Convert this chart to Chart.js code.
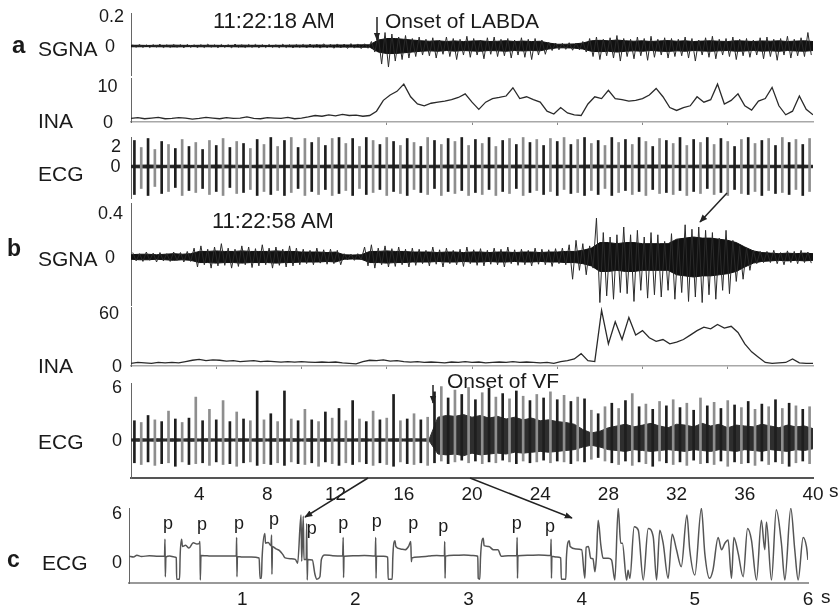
<!DOCTYPE html>
<html>
<head>
<meta charset="utf-8">
<script src="https://cdn.jsdelivr.net/npm/chart.js@4.4.1/dist/chart.umd.min.js"></script>
<style>
body { margin: 0; background: #fff; }
#wrap { position: relative; width: 839px; height: 606px; overflow: hidden; font-family: "Liberation Sans", Arial, sans-serif; color: #1a1a1a; }
#wrap canvas { position: absolute; left: 0; }
.t { position: absolute; line-height: 1; white-space: nowrap; transform: translateY(-50%); font-size: 21px; }
.b { font-weight: bold; font-size: 23px; }
.p { position: absolute; line-height: 1; font-size: 18px; transform: translate(-50%, -50%); }
#wrap svg { position: absolute; left: 0; top: 0; }
</style>
</head>
<body>
<div id="wrap">
  <div class="t b" style="left:12px;top:45px;font-size:24px">a</div>
  <div class="t" style="left:38px;top:47.5px">SGNA</div>
  <div class="t" style="left:213px;top:21px;font-size:22px">11:22:18 AM</div>
  <div class="t" style="left:385px;top:20px">Onset of LABDA</div>
  <div class="t" style="left:38px;top:119.5px">INA</div>
  <div class="t" style="left:38px;top:172.5px">ECG</div>

  <div class="t b" style="left:7px;top:247.5px">b</div>
  <div class="t" style="left:38px;top:257.5px">SGNA</div>
  <div class="t" style="left:212px;top:220.5px;font-size:22px">11:22:58 AM</div>
  <div class="t" style="left:38px;top:364.5px">INA</div>
  <div class="t" style="left:38px;top:440.5px">ECG</div>
  <div class="t" style="left:447px;top:379.5px">Onset of VF</div>
  <div class="t" style="left:829px;top:490px;font-size:19px">s</div>

  <div class="t b" style="left:7px;top:559px">c</div>
  <div class="t" style="left:42px;top:561.5px">ECG</div>
  <div class="t" style="left:821px;top:596px;font-size:19px">s</div>

  <div class="p" style="left:168px;top:523px">p</div>
  <div class="p" style="left:202px;top:523.5px">p</div>
  <div class="p" style="left:239px;top:523px">p</div>
  <div class="p" style="left:274px;top:519px">p</div>
  <div class="p" style="left:311.7px;top:528px">p</div>
  <div class="p" style="left:343.3px;top:523px">p</div>
  <div class="p" style="left:376.7px;top:521.4px">p</div>
  <div class="p" style="left:413.3px;top:523px">p</div>
  <div class="p" style="left:443.3px;top:526.4px">p</div>
  <div class="p" style="left:516.7px;top:523px">p</div>
  <div class="p" style="left:550px;top:526.4px">p</div>

  <svg width="839" height="606" viewBox="0 0 839 606">
    <defs>
      <marker id="ah" viewBox="0 0 10 10" refX="9" refY="5" markerWidth="8" markerHeight="8" markerUnits="userSpaceOnUse" orient="auto">
        <path d="M0,1 L10,5 L0,9 z" fill="#222"/>
      </marker>
    </defs>
    <g stroke="#222" stroke-width="1.5" fill="none">
      <line x1="377" y1="17" x2="377" y2="40" marker-end="url(#ah)"/>
      <line x1="433" y1="385" x2="433" y2="403" marker-end="url(#ah)"/>
      <line x1="727" y1="193" x2="700" y2="222" marker-end="url(#ah)"/>
      <line x1="368" y1="478" x2="305" y2="517" marker-end="url(#ah)"/>
      <line x1="470" y1="478" x2="572" y2="518" marker-end="url(#ah)"/>
    </g>
  </svg>
</div>
<script>
// time grids: 0.4 s envelope bins, 0.5 s and 1 s core samples, 0.4 s INA samples
const binT = Array.from({ length: 100 }, (_, i) => 0.2 + 0.4 * i);
const halfT = Array.from({ length: 81 }, (_, i) => 0.5 * i);
const secT = Array.from({ length: 41 }, (_, i) => i);
const inaT = Array.from({ length: 101 }, (_, i) => 0.4 * i);

// panel a, SGNA (mV): per-bin extremes and dense core half-width
const aSgnaHi = [
  .008,.010,.007,.009,.012,.008,.010,.009,.011,.008,
  .009,.012,.008,.010,.009,.013,.008,.010,.011,.009,
  .010,.008,.012,.009,.010,.011,.013,.012,.015,.012,
  .014,.013,.016,.014,.015,.030,.070,.090,.080,.060,
  .070,.050,.060,.045,.055,.040,.060,.050,.045,.065,
  .050,.040,.055,.060,.045,.050,.040,.055,.045,.050,
  .040,.025,.020,.018,.022,.020,.030,.050,.060,.045,
  .055,.070,.050,.045,.060,.050,.065,.045,.055,.050,
  .045,.060,.050,.040,.055,.065,.045,.050,.060,.045,
  .050,.040,.055,.060,.045,.050,.065,.045,.055,.090];
const aSgnaLo = [
  -.008,-.009,-.010,-.007,-.011,-.009,-.008,-.012,-.009,-.010,
  -.010,-.008,-.011,-.009,-.012,-.008,-.010,-.009,-.011,-.010,
  -.009,-.011,-.010,-.012,-.009,-.013,-.011,-.014,-.012,-.015,
  -.013,-.016,-.014,-.017,-.015,-.040,-.120,-.140,-.100,-.090,
  -.080,-.070,-.060,-.065,-.080,-.055,-.070,-.090,-.060,-.075,
  -.060,-.085,-.055,-.070,-.065,-.080,-.060,-.075,-.090,-.060,
  -.055,-.030,-.025,-.022,-.028,-.025,-.040,-.070,-.090,-.065,
  -.080,-.100,-.070,-.085,-.065,-.095,-.075,-.060,-.080,-.070,
  -.065,-.080,-.100,-.060,-.075,-.085,-.060,-.070,-.090,-.065,
  -.075,-.060,-.085,-.070,-.095,-.060,-.080,-.065,-.070,-.060];
const aSgnaCore = [
  .005,.005,.004,.005,.005,.006,.005,.004,.005,.005,
  .005,.004,.005,.006,.005,.005,.004,.005,.005,.006,
  .006,.006,.007,.006,.007,.007,.007,.008,.008,.040,
  .050,.050,.045,.040,.035,.032,.035,.030,.034,.030,
  .033,.035,.030,.032,.035,.030,.033,.030,.032,.020,
  .012,.012,.014,.020,.035,.038,.035,.040,.035,.032,
  .035,.030,.034,.036,.032,.035,.030,.033,.035,.032,
  .030,.035,.033,.030,.034,.032,.035,.030,.033,.035,.030];

// panel a, INA (a.u.)
const aIna = [
  1.0,1.2,0.9,1.1,1.3,0.9,1.0,1.2,1.1,0.8,
  1.0,1.3,1.1,0.9,1.2,1.0,1.1,1.4,1.0,0.9,
  1.2,1.1,1.0,1.3,0.9,1.1,1.4,1.8,1.6,2.0,
  1.7,2.1,1.8,1.9,1.6,1.8,3.0,6.0,7.5,8.5,
  10.5,7.0,5.0,4.5,5.2,5.5,5.8,6.2,6.8,7.8,
  5.5,3.5,5.5,6.5,6.8,7.2,9.5,6.5,7.0,6.2,
  5.5,3.0,2.2,4.0,2.5,2.0,1.8,5.0,7.0,6.5,
  8.8,6.5,6.2,5.8,6.0,6.5,7.5,9.3,7.0,4.0,
  3.2,4.0,4.5,7.0,5.5,6.2,10.5,5.0,6.0,7.8,
  4.5,3.3,5.8,6.5,9.6,4.5,2.0,3.0,7.2,3.5,2.0];

// panel a, ECG (mV)
const aEcgHi = [
  2.6,1.9,2.8,1.7,2.5,2.2,1.8,2.7,2.0,2.4,
  1.7,2.6,2.1,2.8,1.9,2.5,2.3,1.8,2.7,2.2,
  2.9,2.0,2.6,2.9,1.9,2.8,2.4,2.9,2.1,2.8,
  2.9,2.3,2.8,2.0,2.9,2.6,2.2,2.9,2.5,2.1,
  2.8,2.4,2.0,2.9,2.6,2.2,2.8,2.5,2.9,2.1,
  2.7,2.3,2.9,2.0,2.6,2.8,2.2,2.9,2.4,2.7,
  2.1,2.8,2.5,2.9,2.2,2.7,2.9,2.3,2.6,2.1,
  2.9,2.4,2.7,2.2,2.9,2.5,2.0,2.8,2.6,2.3,
  2.9,2.1,2.7,2.4,2.9,2.2,2.8,2.5,2.0,2.7,
  2.9,2.3,2.6,2.8,2.1,2.9,2.4,2.7,2.2,2.8];
const aEcgLo = [
  -2.8,-2.2,-2.9,-2.0,-2.7,-2.5,-2.1,-2.9,-2.4,-2.6,
  -2.2,-2.8,-2.5,-2.9,-2.1,-2.7,-2.6,-2.3,-2.9,-2.5,
  -2.8,-2.4,-2.9,-2.6,-2.2,-2.9,-2.5,-2.8,-2.3,-2.9,
  -2.7,-2.4,-2.9,-2.2,-2.8,-2.6,-2.3,-2.9,-2.5,-2.7,
  -2.9,-2.3,-2.6,-2.8,-2.2,-2.9,-2.5,-2.7,-2.4,-2.9,
  -2.6,-2.8,-2.3,-2.9,-2.5,-2.7,-2.2,-2.9,-2.6,-2.4,
  -2.8,-2.5,-2.9,-2.3,-2.7,-2.6,-2.9,-2.4,-2.8,-2.2,
  -2.9,-2.6,-2.4,-2.8,-2.5,-2.9,-2.3,-2.7,-2.6,-2.8,
  -2.4,-2.9,-2.5,-2.7,-2.2,-2.8,-2.6,-2.9,-2.3,-2.7,
  -2.8,-2.5,-2.9,-2.4,-2.7,-2.6,-2.8,-2.3,-2.9,-2.5];
const aEcgCore = [
  .12,.15,.12,.14,.12,.15,.13,.12,.15,.12,
  .14,.12,.15,.13,.12,.14,.15,.12,.13,.15,
  .12,.14,.13,.15,.12,.14,.12,.15,.13,.12,
  .14,.15,.12,.13,.15,.12,.14,.13,.12,.15,.12];

// panel b, SGNA (mV)
const bSgnaHi = [
  .04,.03,.045,.035,.04,.03,.045,.04,.05,.08,
  .10,.07,.09,.12,.08,.07,.10,.09,.075,.11,
  .08,.09,.07,.10,.08,.07,.06,.08,.065,.07,
  .06,.03,.025,.03,.09,.11,.08,.10,.075,.09,
  .07,.08,.07,.06,.09,.065,.08,.06,.07,.09,
  .065,.075,.06,.08,.07,.09,.065,.07,.06,.08,
  .07,.065,.075,.08,.11,.15,.12,.10,.35,.22,
  .18,.20,.27,.20,.24,.18,.22,.20,.14,.21,
  .16,.29,.25,.27,.24,.22,.17,.24,.15,.10,
  .08,.06,.05,.05,.06,.04,.055,.05,.06,.045];
const bSgnaLo = [
  -.035,-.04,-.03,-.045,-.035,-.04,-.03,-.045,-.04,-.09,
  -.07,-.10,-.08,-.075,-.10,-.085,-.07,-.095,-.08,-.07,
  -.10,-.075,-.09,-.08,-.07,-.06,-.07,-.055,-.065,-.06,
  -.07,-.025,-.03,-.025,-.08,-.10,-.07,-.09,-.085,-.07,
  -.09,-.075,-.06,-.08,-.065,-.09,-.06,-.07,-.085,-.06,
  -.075,-.08,-.065,-.07,-.09,-.06,-.075,-.07,-.08,-.065,
  -.07,-.085,-.06,-.07,-.20,-.12,-.16,-.10,-.41,-.35,
  -.38,-.32,-.33,-.40,-.30,-.37,-.34,-.36,-.30,-.38,
  -.32,-.40,-.36,-.41,-.34,-.38,-.30,-.33,-.22,-.20,
  -.12,-.06,-.05,-.05,-.06,-.07,-.05,-.06,-.05,-.055];
const bSgnaCore = [
  .020,.025,.025,.020,.025,.030,.025,.030,.050,.050,
  .055,.050,.050,.055,.050,.050,.050,.055,.050,.050,
  .045,.045,.045,.040,.045,.020,.018,.020,.050,.050,
  .055,.050,.050,.045,.045,.045,.040,.045,.045,.040,
  .045,.045,.040,.045,.045,.040,.045,.045,.040,.045,
  .045,.050,.050,.060,.080,.130,.130,.120,.130,.130,
  .120,.120,.120,.120,.160,.170,.180,.170,.170,.160,
  .150,.130,.090,.055,.040,.035,.030,.035,.030,.035,.030];

// panel b, INA (a.u.)
const bIna = [
  3,4,3.5,3,4,3.5,4,3.5,5,6.5,
  7.5,6,7,6.5,5.5,6,5,5.5,6,5,
  5.5,5,4.5,5,4.5,5,4.5,4,4.5,4,
  4.5,3.5,3,2.5,5,6.5,6,7,5.5,6,
  5,4.5,5,4,4.5,4,3.5,4.5,4,5,
  4,4.5,3.5,4,4.5,4,5,4,4.5,4,
  3.5,4,3,5,6,8,14,6,5,63,
  25,50,30,55,35,40,32,28,30,25,
  27,30,35,40,44,42,47,43,45,38,
  25,16,10,4,3,3.5,4,8,3.5,3,3];

// panel b, ECG (mV)
const bEcgHi = [
  2.2,2.0,2.8,2.3,2.1,3.3,2.4,2.0,2.5,4.9,
  2.2,3.5,2.3,4.5,2.1,3.2,2.4,2.2,5.6,2.3,
  3.0,2.1,5.6,2.4,2.2,3.5,2.3,2.1,3.2,2.5,
  3.6,2.2,4.5,2.4,2.1,3.3,2.3,2.5,5.2,2.2,
  2.4,3.0,2.3,2.6,5.5,6.1,4.8,5.7,5.2,6.0,
  4.6,5.4,5.9,4.9,5.3,4.7,5.6,5.0,4.5,5.2,
  4.8,5.5,4.6,5.1,4.4,4.9,4.7,3.4,3.0,3.8,
  4.2,3.6,4.5,5.3,3.8,4.1,3.5,4.4,3.9,4.6,
  3.7,4.2,3.4,4.8,3.9,4.3,3.6,4.5,4.0,3.7,
  4.4,3.5,4.1,3.8,4.6,3.6,4.2,3.9,3.5,3.8];
const bEcgLo = [
  -2.6,-2.8,-2.5,-2.9,-2.7,-2.6,-3.0,-2.5,-2.8,-2.7,
  -2.6,-2.9,-2.5,-2.8,-2.7,-3.0,-2.6,-2.5,-2.9,-2.7,
  -2.8,-2.6,-2.9,-2.5,-2.7,-2.8,-2.6,-3.0,-2.5,-2.7,
  -2.9,-2.6,-2.8,-2.5,-2.7,-2.9,-2.6,-2.8,-3.0,-2.5,
  -2.7,-2.8,-2.6,-2.9,-2.6,-2.4,-2.7,-2.5,-2.3,-2.6,
  -2.4,-2.7,-2.5,-2.6,-2.3,-2.5,-2.7,-2.4,-2.6,-2.5,
  -2.3,-2.6,-2.4,-2.5,-2.7,-2.4,-2.5,-2.2,-2.0,-2.4,
  -2.6,-2.8,-2.4,-2.9,-2.5,-2.7,-3.0,-2.4,-2.6,-2.8,
  -2.5,-2.9,-2.3,-2.7,-2.6,-2.8,-2.4,-3.0,-2.5,-2.7,
  -2.6,-2.9,-2.4,-2.8,-2.5,-2.7,-3.0,-2.6,-2.4,-2.7];
const bEcgCoreHi = [
  .12,.15,.12,.15,.12,.15,.12,.15,.12,.15,
  .12,.15,.12,.15,.12,.15,.12,.15,.12,.15,
  .12,.15,.12,.15,.12,.15,.12,.15,.12,.15,
  .12,.15,.12,.15,.12,.15,2.6,2.8,2.7,2.9,
  2.6,2.8,2.5,2.7,2.4,2.6,2.3,2.5,2.2,2.3,
  2.1,2.0,1.8,1.2,0.8,1.0,1.4,1.6,1.8,1.5,
  1.7,1.9,1.6,1.4,1.8,1.7,1.5,1.9,1.6,1.8,
  1.4,1.7,1.6,1.5,1.8,1.6,1.4,1.7,1.5,1.6,1.3];
const bEcgCoreLo = [
  -.12,-.15,-.12,-.15,-.12,-.15,-.12,-.15,-.12,-.15,
  -.12,-.15,-.12,-.15,-.12,-.15,-.12,-.15,-.12,-.15,
  -.12,-.15,-.12,-.15,-.12,-.15,-.12,-.15,-.12,-.15,
  -.12,-.15,-.12,-.15,-.12,-.15,-1.6,-1.7,-1.6,-1.8,
  -1.5,-1.7,-1.6,-1.5,-1.6,-1.4,-1.5,-1.4,-1.3,-1.4,
  -1.3,-1.2,-1.1,-0.8,-0.6,-0.8,-1.1,-1.2,-1.3,-1.1,
  -1.2,-1.3,-1.2,-1.1,-1.2,-1.3,-1.1,-1.2,-1.3,-1.1,
  -1.2,-1.3,-1.1,-1.2,-1.3,-1.1,-1.2,-1.3,-1.1,-1.2,-1.0];

// panel c, expanded ECG: time (s) and voltage (mV)
const cT = [
  0.00,0.04,0.07,0.11,0.18,0.26,0.314,0.318,0.321,0.326,
  0.36,0.40,0.418,0.421,0.447,0.452,0.465,0.472,0.50,0.53,
  0.568,0.60,0.622,0.627,0.630,0.636,0.67,0.72,0.80,0.88,
  0.948,0.951,0.954,0.958,1.00,1.08,1.15,1.158,1.170,1.176,
  1.200,1.206,1.23,1.255,1.260,1.263,1.268,1.30,1.33,1.36,
  1.38,1.43,1.47,1.490,1.520,1.526,1.540,1.546,1.566,1.570,
  1.575,1.580,1.62,1.643,1.660,1.687,1.70,1.73,1.80,1.888,
  1.893,1.896,1.900,1.98,2.08,2.176,2.180,2.183,2.187,2.25,
  2.286,2.290,2.326,2.331,2.350,2.358,2.40,2.44,2.47,2.490,
  2.495,2.50,2.56,2.65,2.72,2.787,2.790,2.793,2.797,2.87,
  2.96,3.04,3.082,3.086,3.100,3.106,3.130,3.138,3.18,3.22,
  3.26,3.29,3.35,3.426,3.430,3.433,3.437,3.52,3.62,3.726,
  3.730,3.733,3.737,3.78,3.815,3.820,3.860,3.865,3.890,3.898,
  3.95,4.00,4.028,4.040,4.06,4.08,4.10,4.117,4.130,4.146,
  4.170,4.19,4.234,4.264,4.293,4.323,4.345,4.36,4.397,4.41,
  4.426,4.464,4.50,4.544,4.588,4.632,4.662,4.690,4.720,4.764,
  4.800,4.838,4.880,4.930,4.955,5.000,5.058,5.088,5.130,5.160,
  5.206,5.236,5.265,5.294,5.324,5.345,5.383,5.427,5.466,5.500,
  5.545,5.588,5.618,5.633,5.677,5.720,5.765,5.795,5.848,5.883,
  5.913,5.957,5.986,6.000];
const cV = [
  0.72,0.62,0.82,0.68,0.76,0.70,0.74,2.80,-1.80,0.60,
  0.72,0.62,0.55,-2.10,-2.10,0.80,2.80,1.90,2.05,1.70,
  2.36,2.20,2.30,2.50,-2.20,0.80,0.78,0.72,0.75,0.72,
  0.72,3.00,-1.80,0.68,0.62,0.60,0.50,-2.00,-2.00,0.50,
  3.50,2.30,2.40,2.00,3.30,-1.50,1.90,1.60,1.40,0.90,
  0.50,0.40,0.32,-0.16,5.75,0.10,5.60,0.30,0.30,4.70,
  -2.20,0.30,0.25,-1.50,-2.10,-1.80,0.30,0.86,0.78,0.75,
  3.00,-1.90,0.70,0.76,0.80,0.75,3.00,-2.00,0.70,0.70,
  0.60,-2.10,-2.10,0.50,2.60,1.90,1.60,1.50,1.90,2.50,
  0.04,0.50,0.62,0.72,0.80,0.76,2.50,-2.00,0.72,0.82,
  0.85,0.80,0.70,-2.00,-2.10,0.50,2.90,2.00,1.90,1.50,
  1.50,0.70,0.76,0.80,3.00,-2.00,0.76,0.82,0.85,0.80,
  2.80,-2.00,0.70,0.60,0.50,-2.10,-2.10,0.50,2.60,1.90,
  1.60,1.50,-2.00,1.80,1.90,0.45,0.40,-1.20,0.50,5.10,
  2.00,0.45,0.45,0.25,-2.20,6.57,2.30,2.30,-2.20,-1.00,
  -2.00,4.30,3.90,-2.20,4.10,3.10,-2.20,3.90,2.30,-2.00,
  3.40,1.50,-0.57,5.75,1.50,-1.60,6.57,1.06,-2.00,-1.00,
  3.00,1.50,2.30,2.70,-2.00,3.00,1.06,-1.80,4.10,2.70,
  -2.20,5.10,1.50,4.90,-2.20,6.40,2.30,-2.20,6.57,1.50,
  -2.20,3.00,1.90,0.25];

// tick values
const aSgnaTicks = [0.2, 0];
const aInaTicks = [10, 0];
const aEcgTicks = [2, 0];
const bSgnaTicks = [0.4, 0];
const bInaTicks = [60, 0];
const bEcgTicks = [6, 0];
const cEcgTicks = [6, 0];
const xTicksB = [4, 8, 12, 16, 20, 24, 28, 32, 36, 40];
const xTicksC = [1, 2, 3, 4, 5, 6];
const aInaMarks = [15, 20, 25, 30, 35];
const bInaMarks = [5, 10, 15, 20, 25, 30, 35];

const FONT = '"Liberation Sans", Arial, sans-serif';
const wrap = document.getElementById('wrap');

const pts = (ts, v, s = 1) => ts.map((t, i) => ({ x: t, y: s * v[i] }));
const bars = (ts, lo, hi) => ts.map((t, i) => ({ x: t, y: [lo[i], hi[i]] }));
// the recorded trace swings from the bin's maximum to its minimum
const swing = (ts, lo, hi) => ts.flatMap((t, i) => [{ x: t - 0.1, y: hi[i] }, { x: t + 0.1, y: lo[i] }]);

const yTickText = {
  id: 'yTickText',
  afterDraw(chart, args, o) {
    if (!o || !o.values) return;
    const ctx = chart.ctx, y = chart.scales.y;
    ctx.save();
    ctx.font = '18px ' + FONT;
    ctx.fillStyle = '#1a1a1a';
    ctx.textAlign = 'center';
    ctx.textBaseline = 'middle';
    o.values.forEach((v, i) => ctx.fillText(String(v), o.xs[i], y.getPixelForValue(v) + 1));
    ctx.restore();
  }
};

function panel(p) {
  const padT = 10, padB = 10, xh = p.xh || 0;
  const cv = document.createElement('canvas');
  cv.width = 839;
  cv.height = p.bottom - p.top + padT + padB + xh;
  cv.style.top = (p.top - padT) + 'px';
  wrap.insertBefore(cv, wrap.firstChild);
  const x = Object.assign({ type: 'linear', min: 0, max: p.xmax, offset: false, display: false }, p.xAxis || {});
  if (p.xAxis) x.afterFit = s => { s.height = xh; };
  return new Chart(cv, {
    type: 'line',
    data: { datasets: p.datasets },
    options: {
      responsive: false,
      animation: false,
      events: [],
      layout: { padding: { top: padT, bottom: padB, left: 0, right: 839 - p.right } },
      plugins: {
        legend: { display: false },
        tooltip: { enabled: false },
        yTickText: { values: p.ticks, xs: p.tickXs }
      },
      scales: {
        x,
        y: {
          min: p.ymin, max: p.ymax,
          afterFit: s => { s.width = p.left; },
          ticks: { display: false },
          grid: { display: false },
          border: { display: true, color: '#666', width: 1 }
        }
      }
    },
    plugins: [yTickText]
  });
}

const trace = (data, color, w) => ({ type: 'line', data, borderColor: color, borderWidth: w, pointRadius: 0, tension: 0, order: 1 });
// ECG sweeps: one vertical stroke per bin, alternately dark and light in the print
const ecgBars = data => ({
  type: 'bar', data, barThickness: 2, grouped: false, borderWidth: 0, order: 1,
  backgroundColor: c => (c.dataIndex % 2 ? '#8e8e8e' : '#1e1e1e')
});
// dense core of a trace: area between an upper and a lower line
const core = (hiPts, loPts, color) => [
  { type: 'line', data: hiPts, borderColor: color, borderWidth: 1, backgroundColor: color, pointRadius: 0, fill: '+1', order: 3 },
  { type: 'line', data: loPts, borderColor: color, borderWidth: 1, pointRadius: 0, fill: false, order: 3 }
];

const inaAxis = marks => ({
  display: true,
  afterBuildTicks: s => { s.ticks = marks.map(v => ({ value: v })); },
  ticks: { display: false },
  grid: { display: true, drawOnChartArea: false, drawTicks: true, tickLength: 3, color: '#888' },
  border: { display: true, color: '#a8a8a8', width: 1.5 }
});
const timeAxis = (list, color) => ({
  display: true,
  afterBuildTicks: s => { s.ticks = list.map(v => ({ value: v })); },
  ticks: { color: '#1a1a1a', font: { family: FONT, size: 19 }, padding: 5, maxRotation: 0, autoSkip: false },
  grid: { display: false, drawTicks: false },
  border: { display: true, color, width: 2 }
});

// a
panel({ top: 13, bottom: 75, left: 131, right: 813, xmax: 40, ymin: -0.193, ymax: 0.22,
  ticks: aSgnaTicks, tickXs: [111.5, 110],
  datasets: [trace(swing(binT, aSgnaLo, aSgnaHi), '#2a2a2a', 1),
             ...core(pts(halfT, aSgnaCore), pts(halfT, aSgnaCore, -1), '#111')] });
panel({ top: 78, bottom: 122, left: 131, right: 813, xmax: 40, ymin: 0, ymax: 12.2, xh: 4,
  ticks: aInaTicks, tickXs: [107.5, 108], xAxis: inaAxis(aInaMarks),
  datasets: [trace(pts(inaT, aIna), '#2a2a2a', 1.3)] });
panel({ top: 137, bottom: 198, left: 131, right: 813, xmax: 40, ymin: -3.15, ymax: 2.95,
  ticks: aEcgTicks, tickXs: [116, 115.5],
  datasets: [ecgBars(bars(binT, aEcgLo, aEcgHi)),
             ...core(pts(secT, aEcgCore), pts(secT, aEcgCore, -1), '#222')] });

// b
panel({ top: 203, bottom: 305, left: 131, right: 813, xmax: 40, ymin: -0.432, ymax: 0.486,
  ticks: bSgnaTicks, tickXs: [110.5, 110],
  datasets: [trace(swing(binT, bSgnaLo, bSgnaHi), '#2a2a2a', 1),
             ...core(pts(halfT, bSgnaCore), pts(halfT, bSgnaCore, -1), '#111')] });
panel({ top: 307, bottom: 366, left: 131, right: 813, xmax: 40, ymin: 0, ymax: 66.8, xh: 4,
  ticks: bInaTicks, tickXs: [109, 117], xAxis: inaAxis(bInaMarks),
  datasets: [trace(pts(inaT, bIna), '#2a2a2a', 1.3)] });
panel({ top: 383, bottom: 478, left: 131, right: 813, xmax: 40, ymin: -4.34, ymax: 6.51, xh: 28,
  ticks: bEcgTicks, tickXs: [117, 117], xAxis: timeAxis(xTicksB, '#555'),
  datasets: [ecgBars(bars(binT, bEcgLo, bEcgHi)),
             ...core(pts(halfT, bEcgCoreHi), pts(halfT, bEcgCoreLo), '#2e2e2e')] });

// c
panel({ top: 508, bottom: 583, left: 129, right: 808, xmax: 6, ymin: -2.57, ymax: 6.61, xh: 23,
  ticks: cEcgTicks, tickXs: [117, 117], xAxis: timeAxis(xTicksC, '#999'),
  datasets: [Object.assign(trace(pts(cT, cV), '#555', 1.5), { cubicInterpolationMode: 'monotone' })] });
</script>
</body>
</html>
